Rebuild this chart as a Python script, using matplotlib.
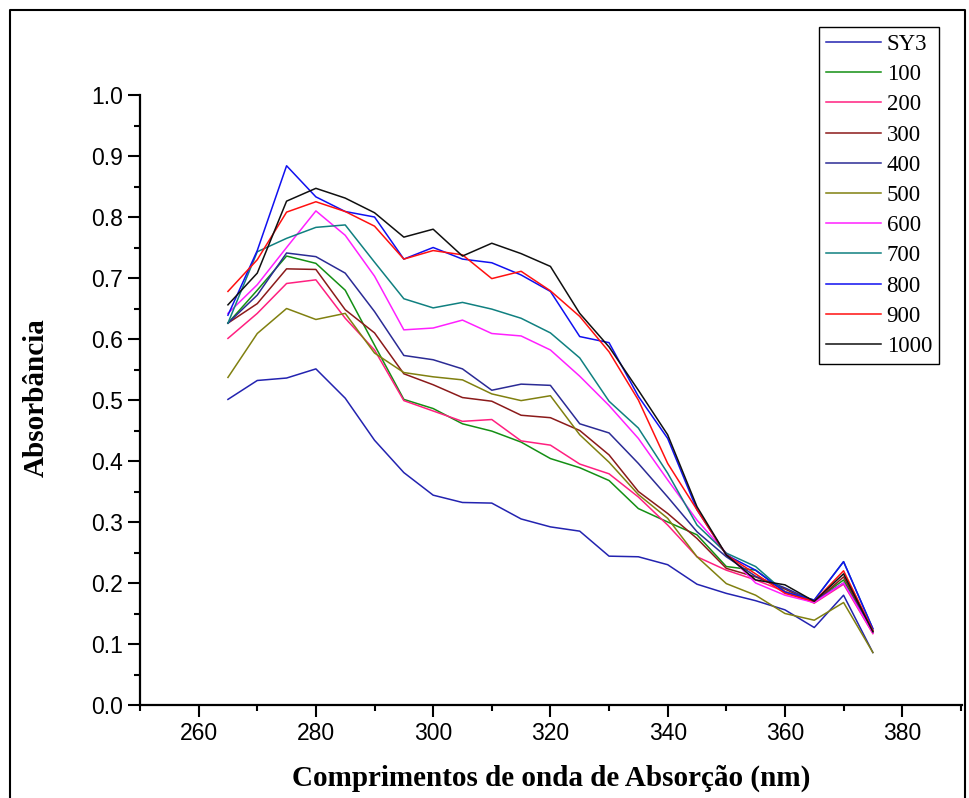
"""
UV-Vis absorbance spectra of SY3 and its samples (100 ... 1000).
"""

import matplotlib
matplotlib.use("Agg")
import matplotlib.pyplot as plt
from matplotlib.lines import Line2D
from matplotlib.ticker import MultipleLocator, FormatStrFormatter

wavelength = [265, 270, 275, 280, 285, 290, 295, 300, 305, 310, 315, 320,
              325, 330, 335, 340, 345, 350, 355, 360, 365, 370, 375]

labels = ["SY3", "100", "200", "300", "400", "500", "600", "700", "800", "900", "1000"]
colors = ["#2323B0", "#148F14", "#FF2080", "#8B1A1A", "#2B2B95", "#808010",
          "#FF20FF", "#108080", "#1010F0", "#FF1010", "#101010"]

sy3 = [0.501, 0.532, 0.536, 0.551, 0.503, 0.434, 0.381, 0.344, 0.332, 0.331, 0.305, 0.292,
       0.285, 0.244, 0.243, 0.230, 0.198, 0.183, 0.171, 0.156, 0.127, 0.180, 0.086]
s100 = [0.626, 0.680, 0.736, 0.724, 0.680, 0.590, 0.501, 0.486, 0.461, 0.449, 0.431, 0.404,
        0.389, 0.368, 0.322, 0.300, 0.279, 0.227, 0.221, 0.186, 0.170, 0.205, 0.120]
s200 = [0.601, 0.642, 0.691, 0.697, 0.634, 0.582, 0.499, 0.482, 0.465, 0.468, 0.433, 0.426,
        0.395, 0.379, 0.341, 0.295, 0.243, 0.221, 0.205, 0.186, 0.167, 0.198, 0.117]
s300 = [0.626, 0.658, 0.715, 0.714, 0.648, 0.610, 0.543, 0.525, 0.504, 0.498, 0.475, 0.471,
        0.450, 0.410, 0.350, 0.314, 0.273, 0.224, 0.210, 0.190, 0.168, 0.210, 0.120]
s400 = [0.626, 0.672, 0.741, 0.735, 0.708, 0.645, 0.573, 0.566, 0.551, 0.516, 0.526, 0.524,
        0.461, 0.446, 0.396, 0.341, 0.284, 0.243, 0.211, 0.192, 0.170, 0.200, 0.122]
s500 = [0.537, 0.609, 0.650, 0.632, 0.642, 0.577, 0.545, 0.538, 0.533, 0.510, 0.499, 0.507,
        0.443, 0.398, 0.345, 0.306, 0.243, 0.199, 0.180, 0.150, 0.139, 0.168, 0.086]
s600 = [0.642, 0.689, 0.750, 0.810, 0.770, 0.703, 0.615, 0.618, 0.631, 0.609, 0.605, 0.582,
        0.539, 0.491, 0.437, 0.369, 0.303, 0.249, 0.200, 0.180, 0.168, 0.200, 0.118]
s700 = [0.626, 0.743, 0.765, 0.783, 0.787, 0.726, 0.666, 0.651, 0.660, 0.649, 0.634, 0.610,
        0.569, 0.498, 0.454, 0.380, 0.295, 0.249, 0.227, 0.185, 0.172, 0.235, 0.125]
s800 = [0.639, 0.745, 0.884, 0.833, 0.809, 0.800, 0.731, 0.750, 0.731, 0.725, 0.705, 0.678,
        0.604, 0.594, 0.506, 0.437, 0.320, 0.246, 0.221, 0.185, 0.172, 0.235, 0.125]
s900 = [0.678, 0.730, 0.808, 0.825, 0.809, 0.785, 0.731, 0.745, 0.738, 0.699, 0.711, 0.679,
        0.637, 0.579, 0.500, 0.396, 0.320, 0.246, 0.215, 0.183, 0.170, 0.220, 0.122]
s1000 = [0.656, 0.708, 0.826, 0.847, 0.831, 0.807, 0.767, 0.780, 0.736, 0.757, 0.740, 0.719,
         0.642, 0.587, 0.516, 0.443, 0.325, 0.246, 0.205, 0.197, 0.170, 0.215, 0.120]

series = [sy3, s100, s200, s300, s400, s500, s600, s700, s800, s900, s1000]


def main() -> None:
    fig = plt.figure(figsize=(9.69, 7.98), dpi=100)
    ax = fig.add_axes([140 / 969, 93 / 798, 822 / 969, 610 / 798])

    for values, label, color in zip(series, labels, colors):
        ax.plot(wavelength, values, color=color, lw=1.1, label=label)

    ax.set_xlim(250, 390.2)
    ax.set_ylim(0, 1.0)
    ax.xaxis.set_major_locator(MultipleLocator(20))
    ax.xaxis.set_minor_locator(MultipleLocator(10))
    ax.yaxis.set_major_locator(MultipleLocator(0.1))
    ax.yaxis.set_minor_locator(MultipleLocator(0.05))
    ax.yaxis.set_major_formatter(FormatStrFormatter("%.1f"))

    for side in ("top", "right"):
        ax.spines[side].set_visible(False)
    for side in ("left", "bottom"):
        ax.spines[side].set_linewidth(1.6)
    ax.tick_params(which="major", direction="out", length=8.5, width=1.5,
                   labelsize=16.5, pad=4)
    ax.tick_params(which="minor", direction="out", length=4.5, width=1.5)
    for lbl in ax.get_xticklabels() + ax.get_yticklabels():
        lbl.set_fontfamily("Liberation Sans")

    serif_bold = dict(family="Liberation Serif", fontweight="bold", fontsize=21)
    fig.text(551 / 969, 1 - 778 / 798, "Comprimentos de onda de Absorção (nm)",
             ha="center", va="center", **serif_bold)
    fig.text(36 / 969, 1 - 398 / 798, "Absorbância", rotation=90,
             ha="center", va="center", **serif_bold)

    leg = ax.legend(loc="upper left", bbox_to_anchor=(819 / 969, 1 - 27 / 798),
                    bbox_transform=fig.transFigure, borderaxespad=0,
                    prop={"family": "Liberation Serif", "size": 16.5},
                    handlelength=2.4, handletextpad=0.25, labelspacing=0.4,
                    borderpad=0.3, fancybox=False, framealpha=1)
    leg.get_frame().set_edgecolor("black")
    leg.get_frame().set_linewidth(1.0)

    # outer frame around the picture (left, top, right)
    fx = [10 / 969, 10 / 969, 965 / 969, 965 / 969]
    fy = [0, 1 - 10 / 798, 1 - 10 / 798, 0]
    fig.add_artist(Line2D(fx, fy, transform=fig.transFigure, color="black", lw=1.5))

    fig.savefig("out.png", dpi=100)


if __name__ == "__main__":
    main()
